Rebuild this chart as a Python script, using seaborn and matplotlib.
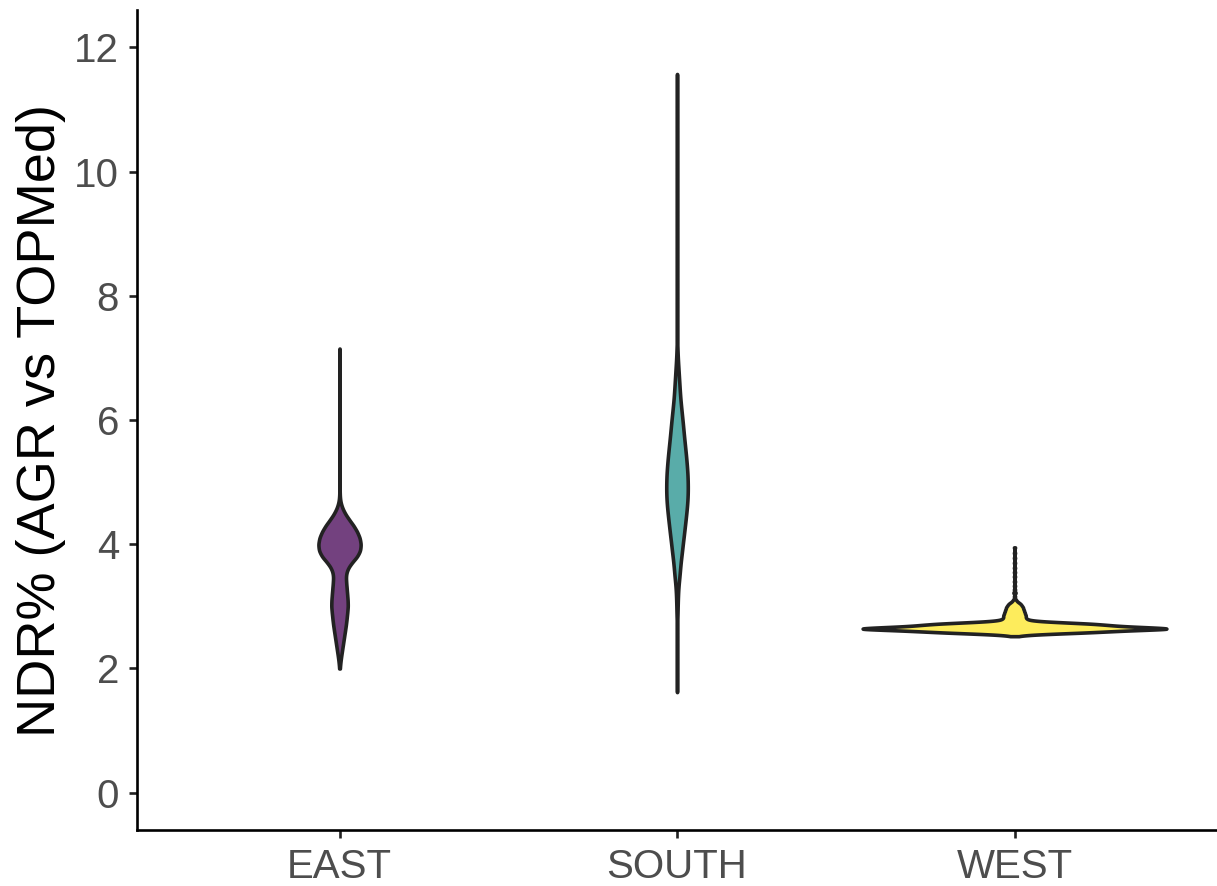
import numpy as np
import pandas as pd
import matplotlib
matplotlib.use("Agg")
import matplotlib.pyplot as plt
import seaborn as sns

# Observed NDR% values per region, stored as value bins with counts
east_values = [2.0, 2.1, 2.2, 2.3, 2.4, 2.5, 2.6, 2.7, 2.8, 2.9,
               3.0, 3.1, 3.2, 3.3, 3.4, 3.5, 3.6, 3.7, 3.8, 3.9,
               4.0, 4.1, 4.2, 4.3, 4.4, 4.5, 4.6, 4.7,
               4.8, 4.9, 5.0, 5.2, 5.4, 5.6, 5.8, 6.0, 6.3, 6.6, 6.9, 7.15]
east_counts = [3, 8, 16, 25, 34, 43, 52, 61, 68, 74,
               80, 78, 73, 68, 63, 60, 75, 115, 170, 200,
               205, 195, 170, 135, 90, 50, 22, 6,
               2, 1, 1, 1, 1, 1, 1, 1, 1, 1, 1, 1]

south_values = [1.62, 1.8, 2.0, 2.2, 2.4, 2.6, 2.8, 2.9,
                3.0, 3.1, 3.2, 3.3, 3.4, 3.5, 3.6, 3.7, 3.8, 3.9,
                4.0, 4.1, 4.2, 4.3, 4.4, 4.5, 4.6, 4.7, 4.8, 4.9,
                5.0, 5.1, 5.2, 5.3, 5.4, 5.5, 5.6, 5.7, 5.8, 5.9,
                6.0, 6.1, 6.2, 6.3, 6.4, 6.5, 6.6, 6.7, 6.8, 6.9,
                7.0, 7.1, 7.2,
                7.4, 7.6, 7.8, 8.1, 8.4, 8.7, 9.0, 9.4, 9.8, 10.2,
                10.6, 11.0, 11.3, 11.57]
south_counts = [1, 1, 1, 1, 2, 2, 3, 4,
                5, 6, 8, 10, 15, 20, 24, 28, 34, 40,
                45, 51, 57, 62, 68, 73, 78, 82, 84, 85,
                84, 83, 80, 76, 72, 67, 62, 57, 52, 48,
                43, 38, 33, 28, 24, 21, 18, 15, 12, 9,
                6, 4, 3,
                1, 1, 1, 1, 1, 1, 1, 1, 1, 1,
                1, 1, 1, 1]

west_values = [2.52, 2.54, 2.56, 2.58, 2.60, 2.62, 2.64, 2.66, 2.68, 2.70,
               2.72, 2.74, 2.76, 2.78, 2.80, 2.82, 2.84, 2.86, 2.88, 2.90,
               2.92, 2.94, 2.96, 2.98, 3.00, 3.02, 3.04, 3.06, 3.08, 3.10,
               3.12, 3.16, 3.22, 3.27, 3.33, 3.40, 3.48, 3.55, 3.62, 3.70,
               3.78, 3.86, 3.95]
west_counts = [3, 15, 45, 85, 112, 145, 190, 160, 125, 108,
               92, 60, 30, 17, 14, 13, 13, 13, 12, 12,
               11, 11, 10, 10, 9, 8, 7, 5, 3, 2,
               1, 1, 2, 1, 1, 1, 1, 1, 1, 1,
               1, 1, 1]

regions = ["EAST", "SOUTH", "WEST"]
fill_colors = ["#73417F", "#59ACA9", "#FDEC5C"]

frames = []
for name, vals, cnts in zip(regions,
                            [east_values, south_values, west_values],
                            [east_counts, south_counts, west_counts]):
    frames.append(pd.DataFrame({"region": name,
                                "ndr": np.repeat(vals, cnts)}))
df = pd.concat(frames, ignore_index=True)

sns.set_theme(style="ticks")
plt.rcParams["font.family"] = ["Liberation Sans", "DejaVu Sans"]

fig = plt.figure(figsize=(12.17, 8.86), dpi=100)
ax = fig.add_axes([0.1126, 0.0632, 0.8874, 0.9255])

# Equal-area violins scaled against the single widest density
sns.violinplot(data=df, x="region", y="ndr", hue="region", order=regions,
               hue_order=regions, palette=fill_colors, saturation=1,
               inner=None, cut=0, bw_method=0.1, gridsize=1500,
               density_norm="area", common_norm=True, width=0.9,
               linewidth=2.6, linecolor="#222222", legend=False, ax=ax)

ax.set_xlim(-0.6, 2.6)
ax.set_ylim(-0.6, 12.6)
ax.set_yticks([0, 2, 4, 6, 8, 10, 12])
ax.set_xlabel("")
ax.set_ylabel("NDR% (AGR vs TOPMed)", fontsize=39, color="black", labelpad=6)

for side in ["top", "right"]:
    ax.spines[side].set_visible(False)
for side in ["left", "bottom"]:
    ax.spines[side].set_linewidth(1.9)
    ax.spines[side].set_color("black")

ax.tick_params(axis="both", which="major", length=6, width=1.9,
               color="#222222", labelsize=29, labelcolor="#4D4D4D", pad=7)

fig.savefig("out.png", dpi=100, facecolor="white")
